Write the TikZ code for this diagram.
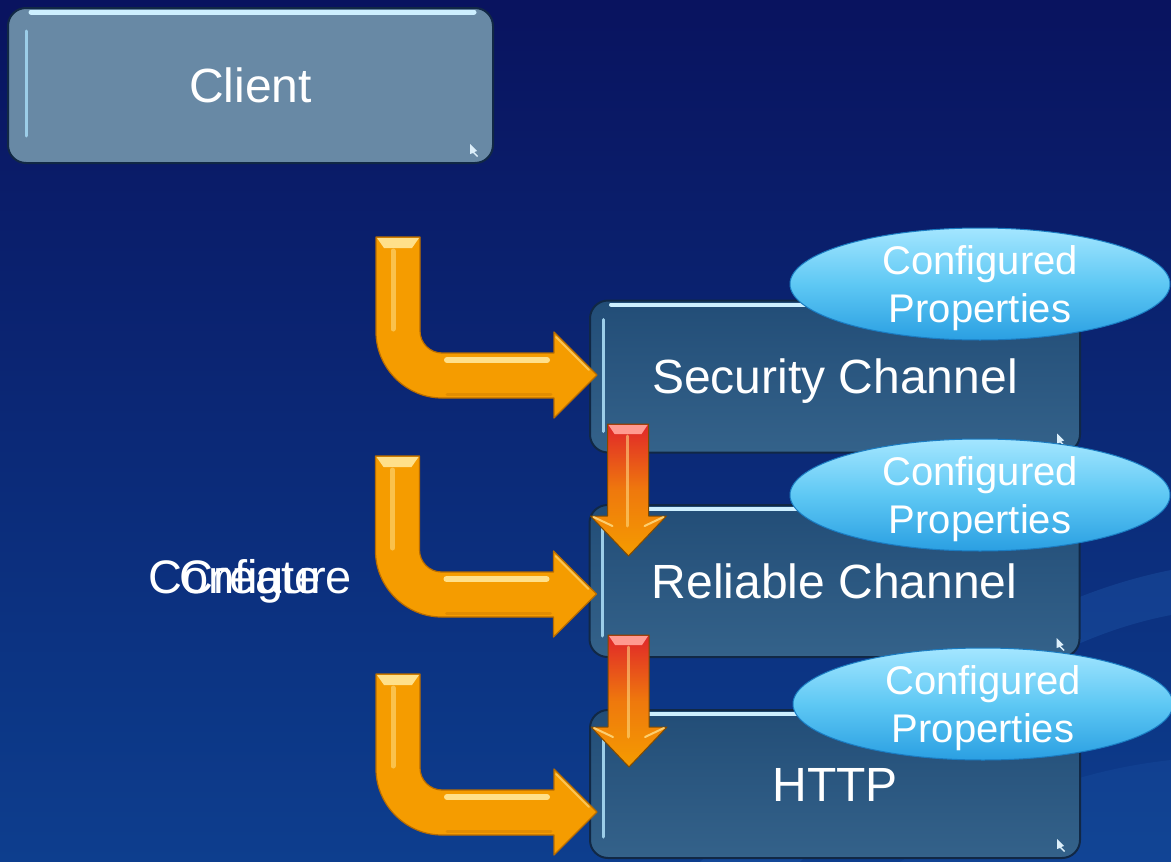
\documentclass[tikz,border=0pt]{standalone}
\usepackage{fontspec}
\setmainfont{Liberation Sans}
\usetikzlibrary{shapes.geometric,calc}

\definecolor{bgtop}{HTML}{09135F}
\definecolor{bgbot}{HTML}{0D3E8E}
\definecolor{swoosh}{HTML}{2A6CC0}
\definecolor{clientfill}{HTML}{6889A5}
\definecolor{chantop}{HTML}{224D77}
\definecolor{chanbot}{HTML}{34628A}
\definecolor{boxline}{HTML}{112845}
\definecolor{hilite}{HTML}{CDEFFF}
\definecolor{sidelite}{HTML}{9CCDE8}
\definecolor{markc}{HTML}{DDEFFA}
\definecolor{orangemain}{HTML}{F59C00}
\definecolor{orangedark}{HTML}{B86C00}
\definecolor{orangelight}{HTML}{FFE08A}
\definecolor{redtop}{HTML}{E0262A}
\definecolor{redlight}{HTML}{FF9A90}
\definecolor{elltop}{HTML}{A4E6FF}
\definecolor{ellmid}{HTML}{5EC8F4}
\definecolor{ellbot}{HTML}{2A9FE2}
\definecolor{elledge}{HTML}{1A7CC2}

\tikzset{
  panel/.style={rectangle, rounded corners=18pt, draw=boxline, line width=2pt,
    inner sep=0pt, text=white, font=\fontsize{48}{56}\selectfont,
    text height=34pt, text depth=0pt},
  clientbox/.style={panel, fill=clientfill, minimum width=485pt, minimum height=155pt},
  chanbox/.style={panel, top color=chantop, bottom color=chanbot,
    minimum width=490pt, minimum height=152pt},
  propcloud/.style={ellipse, minimum width=380pt, minimum height=112pt, inner sep=0pt,
    top color=elltop, bottom color=ellbot, middle color=ellmid,
    draw=elledge, line width=1pt, text=white, align=center,
    font=\fontsize{40}{48}\selectfont, text depth=0pt},
  tophl/.style={draw=hilite, line width=5pt, line cap=round},
  sidehl/.style={draw=sidelite, line width=3pt, line cap=round},
  steplabel/.style={text=white, font=\fontsize{47}{56}\selectfont, anchor=base, inner sep=0pt},
  cornermark/.style={fill=markc}
}

% fat orange elbow arrow, drawn around its tip
\newcommand{\bendarrow}[1]{%
  \begin{scope}[shift={(#1)}]
    \filldraw[fill=orangemain, draw=orangedark, line width=1.2pt, line join=round]
      (-221,-138) -- (-177,-138) -- (-177,-44)
      .. controls (-177,-32) and (-167,-22) .. (-155,-22)
      -- (-43,-22) -- (-43,-43) -- (0,0) -- (-43,43) -- (-43,23) -- (-155,23)
      .. controls (-191,23) and (-221,-7) .. (-221,-43) -- cycle;
    % bevelled top cap
    \fill[orangelight] (-220,-137) -- (-178,-137) -- (-185,-127) -- (-213,-127) -- cycle;
    % glossy streaks
    \draw[orangelight, opacity=0.55, line width=5pt, line cap=round] (-204,-124) -- (-204,-46);
    \draw[orangelight, line width=6pt, line cap=round] (-150,-15) -- (-50,-15);
    \draw[orangelight, opacity=0.6, line width=2pt, line cap=round] (-41,-38) -- (-8,-5);
    \draw[orangedark, opacity=0.3, line width=3pt, line cap=round] (-150,19) -- (-46,19);
  \end{scope}}

% red-to-orange down arrow, drawn around its tip
\newcommand{\droparrow}[1]{%
  \begin{scope}[shift={(#1)}]
    \shade[top color=redtop, bottom color=orangemain, middle color=orangemain!70!redtop]
      (-21,-132) -- (20,-132) -- (20,-40) -- (38,-40) -- (0,0) -- (-38,-40) -- (-21,-40) -- cycle;
    \draw[orangedark!70!black, line width=1pt, line join=round]
      (-21,-132) -- (20,-132) -- (20,-40) -- (38,-40) -- (0,0) -- (-38,-40) -- (-21,-40) -- cycle;
    \fill[redlight] (-20,-131) -- (19,-131) -- (13,-122) -- (-14,-122) -- cycle;
    \draw[orangelight, opacity=0.55, line width=3pt, line cap=round] (-1,-120) -- (-1,-30);
    \draw[orangelight, opacity=0.8, line width=2pt, line cap=round] (-35,-39) -- (-16,-30);
    \draw[orangelight, opacity=0.8, line width=2pt, line cap=round] (35,-39) -- (16,-30);
  \end{scope}}

\begin{document}
\begin{tikzpicture}[x=1pt,y=-1pt]
  \useasboundingbox (0,0) rectangle (1171,862);
  \shade[top color=bgtop, bottom color=bgbot] (0,0) rectangle (1171,862);

  % soft swoosh in the lower right
  \fill[swoosh, opacity=0.25]
    (700,862) .. controls (880,700) and (1020,600) .. (1171,570)
    -- (1171,615) .. controls (1040,640) and (920,730) .. (800,862) -- cycle;
  \fill[swoosh, opacity=0.15]
    (900,862) .. controls (1000,800) and (1080,770) .. (1171,760)
    -- (1171,862) -- cycle;

  % boxes
  \node[clientbox] (client) at (250.5,85.5) {Client};
  \node[chanbox] (sec) at (835,376.5) {Security Channel};
  \node[chanbox] (rel) at (834.5,581) {Reliable Channel};
  \node[chanbox, minimum height=148pt] (http) at (835,784) {HTTP};

  % glossy edges
  \draw[tophl] ([xshift=24pt,yshift=-5pt]client.north west) -- ([xshift=-20pt,yshift=-5pt]client.north east);
  \draw[sidehl] ([xshift=19pt,yshift=-24pt]client.north west) -- ([xshift=19pt,yshift=28pt]client.south west);
  \foreach \b in {sec,rel,http}{
    \draw[tophl, line width=4pt] ([xshift=22pt,yshift=-5pt]\b.north west) -- ([xshift=-60pt,yshift=-5pt]\b.north east);
    \draw[sidehl] ([xshift=14pt,yshift=-20pt]\b.north west) -- ([xshift=14pt,yshift=22pt]\b.south west);
  }
  \foreach \b in {client,sec,rel,http}{
    \fill[cornermark] ([xshift=-24pt,yshift=20pt]\b.south east) -- ++(0,10) -- ++(3,-1) -- ++(4,4) -- ++(1,-1) -- ++(-4,-4) -- ++(3,-1) -- cycle;
  }

  % property bubbles
  \node[propcloud] (p1) at (980,284) {Configured\\Properties};
  \node[propcloud] (p2) at (980,495) {Configured\\Properties};
  \node[propcloud] (p3) at (983,704) {Configured\\Properties};

  % elbow arrows into the channel stack
  \coordinate (c1) at (399,237);
  \coordinate (c2) at (399,457);
  \coordinate (c3) at (399,675);
  \coordinate (t1) at ([xshift=8pt,yshift=1.5pt]sec.west);
  \coordinate (t2) at ([xshift=8pt,yshift=-13pt]rel.west);
  \coordinate (t3) at ([xshift=8pt,yshift=-28pt]http.west);
  \bendarrow{t1}
  \bendarrow{t2}
  \bendarrow{t3}

  % arrows between stacked channels
  \coordinate (r1) at ([xshift=40pt,yshift=-52pt]rel.north west);
  \coordinate (r2) at ([xshift=40pt,yshift=-58pt]http.north west);
  \droparrow{r1}
  \droparrow{r2}

  % step labels, printed on top of each other
  \node[steplabel] (cfg) at (250,593) {Configure};
  \node[steplabel] (crt) at (250,593) {Create};
\end{tikzpicture}
\end{document}
